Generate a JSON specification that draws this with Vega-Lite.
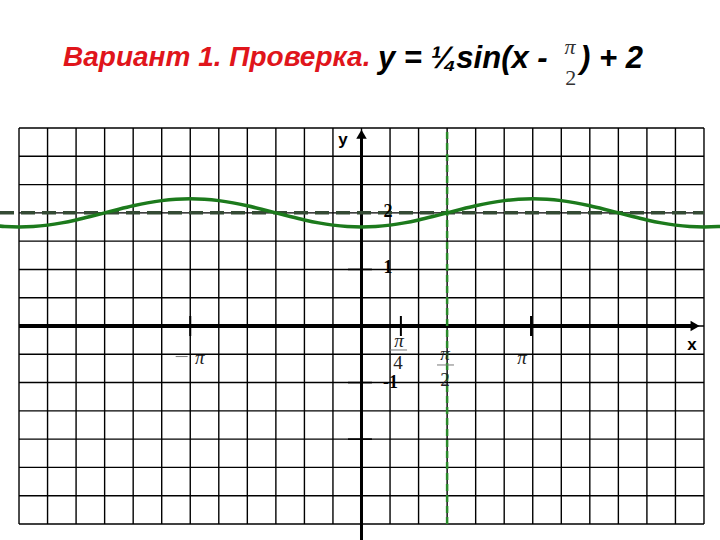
{
  "$schema": "https://vega.github.io/schema/vega-lite/v6.json",
  "width": 720,
  "height": 540,
  "padding": 0,
  "autosize": {"type": "none"},
  "background": "white",
  "config": {"view": {"stroke": null}},
  "datasets": {
    "vgrid": [{"x": -2}, {"x": -1.8333}, {"x": -1.6667}, {"x": -1.5}, {"x": -1.3333}, {"x": -1.1667}, {"x": -1}, {"x": -0.8333}, {"x": -0.6667}, {"x": -0.5}, {"x": -0.3333}, {"x": -0.1667}, {"x": 0}, {"x": 0.1667}, {"x": 0.3333}, {"x": 0.5}, {"x": 0.6667}, {"x": 0.8333}, {"x": 1}, {"x": 1.1667}, {"x": 1.3333}, {"x": 1.5}, {"x": 1.6667}, {"x": 1.8333}, {"x": 2}],
    "hgrid": [{"y": -3.5}, {"y": -3}, {"y": -2.5}, {"y": -2}, {"y": -1.5}, {"y": -1}, {"y": -0.5}, {"y": 0}, {"y": 0.5}, {"y": 1}, {"y": 1.5}, {"y": 2}, {"y": 2.5}, {"y": 3}, {"y": 3.5}],
    "hticks": [{"y": 1}, {"y": -1}, {"y": -2}],
    "vticks": [{"x": -1}, {"x": 0.23}, {"x": 0.99}],
    "curve": [
      {"x": -2.1667, "y": 1.7835}, {"x": -2.0833, "y": 1.7585}, {"x": -2, "y": 1.75}, {"x": -1.9167, "y": 1.7585}, {"x": -1.8333, "y": 1.7835}, {"x": -1.75, "y": 1.8232}, {"x": -1.6667, "y": 1.875}, {"x": -1.5833, "y": 1.9353}, {"x": -1.5, "y": 2}, {"x": -1.4167, "y": 2.0647}, {"x": -1.3333, "y": 2.125}, {"x": -1.25, "y": 2.1768}, {"x": -1.1667, "y": 2.2165}, {"x": -1.0833, "y": 2.2415}, {"x": -1, "y": 2.25}, {"x": -0.9167, "y": 2.2415}, {"x": -0.8333, "y": 2.2165}, {"x": -0.75, "y": 2.1768}, {"x": -0.6667, "y": 2.125}, {"x": -0.5833, "y": 2.0647}, {"x": -0.5, "y": 2}, {"x": -0.4167, "y": 1.9353}, {"x": -0.3333, "y": 1.875}, {"x": -0.25, "y": 1.8232}, {"x": -0.1667, "y": 1.7835}, {"x": -0.0833, "y": 1.7585}, {"x": 0, "y": 1.75},
      {"x": 0.0833, "y": 1.7585}, {"x": 0.1667, "y": 1.7835}, {"x": 0.25, "y": 1.8232}, {"x": 0.3333, "y": 1.875}, {"x": 0.4167, "y": 1.9353}, {"x": 0.5, "y": 2}, {"x": 0.5833, "y": 2.0647}, {"x": 0.6667, "y": 2.125}, {"x": 0.75, "y": 2.1768}, {"x": 0.8333, "y": 2.2165}, {"x": 0.9167, "y": 2.2415}, {"x": 1, "y": 2.25}, {"x": 1.0833, "y": 2.2415}, {"x": 1.1667, "y": 2.2165}, {"x": 1.25, "y": 2.1768}, {"x": 1.3333, "y": 2.125}, {"x": 1.4167, "y": 2.0647}, {"x": 1.5, "y": 2}, {"x": 1.5833, "y": 1.9353}, {"x": 1.6667, "y": 1.875}, {"x": 1.75, "y": 1.8232}, {"x": 1.8333, "y": 1.7835}, {"x": 1.9167, "y": 1.7585}, {"x": 2, "y": 1.75}, {"x": 2.0833, "y": 1.7585}, {"x": 2.1667, "y": 1.7835}
    ],
    "fracbars": [{"x": 0.166, "x2": 0.266, "y": -0.424}, {"x": 0.441, "x2": 0.54, "y": -0.689}, {"x": -1.085, "x2": -1.015, "y": -0.54}],
    "axisletters": [{"x": -0.108, "y": 3.288, "t": "y"}, {"x": 1.93, "y": -0.336, "t": "x"}],
    "numlabels": [{"x": 0.155, "y": 2.015, "t": "2"}, {"x": 0.155, "y": 1.025, "t": "1"}, {"x": 0.17, "y": -1.008, "t": "-1"}],
    "pilabels": [{"x": 0.219, "y": -0.265, "t": "π"}, {"x": 0.488, "y": -0.495, "t": "π"}, {"x": -0.945, "y": -0.566, "t": "π"}, {"x": 0.937, "y": -0.566, "t": "π"}],
    "digitlabels": [{"x": 0.213, "y": -0.654, "t": "4"}, {"x": 0.488, "y": -0.955, "t": "2"}],
    "titlered": [{"x": -1.743, "y": 4.596, "t": "Вариант 1. Проверка."}],
    "titleblack": [{"x": 0.096, "y": 4.561, "t": "y = ¼sin(x - "}, {"x": 1.276, "y": 4.561, "t": ") + 2"}],
    "titlepi": [{"x": 1.217, "y": 4.932, "t": "π"}],
    "titletwo": [{"x": 1.222, "y": 4.384, "t": "2"}],
    "arrows": [{"x": 1.948, "y": 0, "s": "triangle-right"}, {"x": 0, "y": 3.39, "s": "triangle-up"}]
  },
  "layer": [
    {
      "data": {"name": "vgrid"},
      "mark": {"type": "rule", "color": "black", "strokeWidth": 1.4},
      "encoding": {
        "x": {"field": "x", "type": "quantitative", "scale": {"domain": [-2.111, 2.0935], "nice": false, "zero": false}, "axis": null},
        "y": {"datum": -3.5, "type": "quantitative", "scale": {"domain": [-3.783, 5.763], "nice": false, "zero": false}, "axis": null},
        "y2": {"datum": 3.5}
      }
    },
    {
      "data": {"name": "hgrid"},
      "mark": {"type": "rule", "color": "black", "strokeWidth": 1.4},
      "encoding": {
        "y": {"field": "y", "type": "quantitative"},
        "x": {"datum": -2, "type": "quantitative"},
        "x2": {"datum": 2}
      }
    },
    {
      "data": {"name": "hticks"},
      "mark": {"type": "rule", "color": "black", "strokeWidth": 1.6},
      "encoding": {
        "y": {"field": "y", "type": "quantitative"},
        "x": {"datum": -0.079, "type": "quantitative"},
        "x2": {"datum": 0.061}
      }
    },
    {
      "data": {"name": "vticks"},
      "mark": {"type": "rule", "color": "black", "strokeWidth": 2},
      "encoding": {
        "x": {"field": "x", "type": "quantitative"},
        "y": {"datum": -0.177, "type": "quantitative"},
        "y2": {"datum": 0.177}
      }
    },
    {
      "data": {"values": [{"y": 0}]},
      "mark": {"type": "rule", "color": "black", "strokeWidth": 4},
      "encoding": {
        "y": {"field": "y", "type": "quantitative"},
        "x": {"datum": -2, "type": "quantitative"},
        "x2": {"datum": 1.95}
      }
    },
    {
      "data": {"values": [{"x": 0}]},
      "mark": {"type": "rule", "color": "black", "strokeWidth": 3},
      "encoding": {
        "x": {"field": "x", "type": "quantitative"},
        "y": {"datum": -3.783, "type": "quantitative"},
        "y2": {"datum": 3.4}
      }
    },
    {
      "data": {"name": "arrows"},
      "mark": {"type": "point", "filled": true, "color": "black", "opacity": 1, "size": 110},
      "encoding": {
        "x": {"field": "x", "type": "quantitative"},
        "y": {"field": "y", "type": "quantitative"},
        "shape": {"field": "s", "type": "nominal", "scale": null}
      }
    },
    {
      "data": {"values": [{"y": 2}]},
      "mark": {"type": "rule", "color": "#344a34", "strokeWidth": 3.5, "strokeDash": [14, 7]},
      "encoding": {
        "y": {"field": "y", "type": "quantitative"},
        "x": {"datum": -2.111, "type": "quantitative"},
        "x2": {"datum": 2}
      }
    },
    {
      "data": {"values": [{"x": 0.5}]},
      "mark": {"type": "rule", "color": "#2a8a2a", "strokeWidth": 2.5, "strokeDash": [7, 4]},
      "encoding": {
        "x": {"field": "x", "type": "quantitative"},
        "y": {"datum": -3.5, "type": "quantitative"},
        "y2": {"datum": 3.5}
      }
    },
    {
      "data": {"name": "curve"},
      "mark": {"type": "line", "color": "#1c7a1c", "strokeWidth": 3.5, "interpolate": "monotone"},
      "encoding": {
        "x": {"field": "x", "type": "quantitative"},
        "y": {"field": "y", "type": "quantitative"}
      }
    },
    {
      "data": {"name": "fracbars"},
      "mark": {"type": "rule", "color": "#777777", "strokeWidth": 1},
      "encoding": {
        "x": {"field": "x", "type": "quantitative"},
        "x2": {"field": "x2"},
        "y": {"field": "y", "type": "quantitative"}
      }
    },
    {
      "data": {"name": "axisletters"},
      "mark": {"type": "text", "font": "Liberation Sans", "fontWeight": "bold", "fontSize": 17, "color": "black", "align": "center", "baseline": "middle"},
      "encoding": {
        "x": {"field": "x", "type": "quantitative"},
        "y": {"field": "y", "type": "quantitative"},
        "text": {"field": "t"}
      }
    },
    {
      "data": {"name": "numlabels"},
      "mark": {"type": "text", "font": "Liberation Serif", "fontWeight": "bold", "fontSize": 18, "color": "black", "align": "center", "baseline": "middle"},
      "encoding": {
        "x": {"field": "x", "type": "quantitative"},
        "y": {"field": "y", "type": "quantitative"},
        "text": {"field": "t"}
      }
    },
    {
      "data": {"name": "pilabels"},
      "mark": {"type": "text", "font": "Liberation Serif", "fontStyle": "italic", "fontSize": 19, "color": "#222222", "align": "center", "baseline": "middle"},
      "encoding": {
        "x": {"field": "x", "type": "quantitative"},
        "y": {"field": "y", "type": "quantitative"},
        "text": {"field": "t"}
      }
    },
    {
      "data": {"name": "digitlabels"},
      "mark": {"type": "text", "font": "Liberation Serif", "fontSize": 19, "color": "#222222", "align": "center", "baseline": "middle"},
      "encoding": {
        "x": {"field": "x", "type": "quantitative"},
        "y": {"field": "y", "type": "quantitative"},
        "text": {"field": "t"}
      }
    },
    {
      "data": {"name": "titlered"},
      "mark": {"type": "text", "font": "Liberation Sans", "fontWeight": "bold", "fontStyle": "italic", "fontSize": 28, "color": "#e0151b", "align": "left", "baseline": "alphabetic"},
      "encoding": {
        "x": {"field": "x", "type": "quantitative"},
        "y": {"field": "y", "type": "quantitative"},
        "text": {"field": "t"}
      }
    },
    {
      "data": {"name": "titleblack"},
      "mark": {"type": "text", "font": "Liberation Sans", "fontWeight": "bold", "fontStyle": "italic", "fontSize": 31, "color": "black", "align": "left", "baseline": "alphabetic"},
      "encoding": {
        "x": {"field": "x", "type": "quantitative"},
        "y": {"field": "y", "type": "quantitative"},
        "text": {"field": "t"}
      }
    },
    {
      "data": {"name": "titlepi"},
      "mark": {"type": "text", "font": "Liberation Serif", "fontStyle": "italic", "fontSize": 22, "color": "#333333", "align": "center", "baseline": "middle"},
      "encoding": {
        "x": {"field": "x", "type": "quantitative"},
        "y": {"field": "y", "type": "quantitative"},
        "text": {"field": "t"}
      }
    },
    {
      "data": {"name": "titletwo"},
      "mark": {"type": "text", "font": "Liberation Serif", "fontSize": 22, "color": "#333333", "align": "center", "baseline": "middle"},
      "encoding": {
        "x": {"field": "x", "type": "quantitative"},
        "y": {"field": "y", "type": "quantitative"},
        "text": {"field": "t"}
      }
    }
  ]
}
